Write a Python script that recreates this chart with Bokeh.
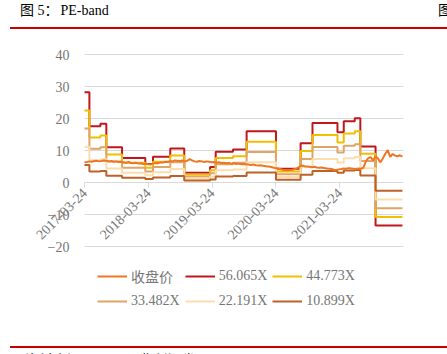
import math
from datetime import datetime, timedelta
from bokeh.plotting import figure
from bokeh.models import (Range1d, FixedTicker, DatetimeTickFormatter, Legend, LegendItem,
                          Div, DatetimeAxis, LinearAxis, Grid)
from bokeh.layouts import column
from bokeh.embed import file_html
from bokeh.resources import INLINE

# ---------------- data ----------------
price_start = "2017-03-24"
price_step_days = 14
price = [
    6.3, 6.4, 6.6, 6.5, 6.7, 6.8, 6.6, 6.7, 6.9, 6.8, 6.6, 6.7, 6.5, 6.6, 6.4, 6.5,
    6.3, 6.2, 6.4, 6.1, 6.0, 6.2, 5.9, 6.0, 5.8, 5.9, 5.7,
    5.6, 5.9, 6.1, 6.0, 6.3, 6.2, 6.5, 6.4, 6.7, 6.6, 6.9, 6.8, 6.7, 6.9, 6.6,
    6.8, 7.3, 6.9, 6.6, 6.5, 6.7, 6.6, 6.4, 6.6, 6.5, 6.3,
    6.4, 6.2, 6.3, 6.1, 6.2, 6.0, 6.1, 5.9, 6.0, 5.8, 5.9, 5.7, 5.8,
    5.7, 5.6, 5.5, 5.6, 5.4, 5.3, 5.4, 5.2, 5.1, 5.0, 4.9, 4.7, 4.5,
    4.4, 4.2, 4.0, 3.9, 3.8, 3.9, 4.0, 4.2, 4.5, 5.0, 5.3, 5.1, 5.0,
    4.9, 4.8, 4.9, 4.7, 4.6, 4.7, 4.5, 4.4, 4.3, 4.2, 4.0, 3.9, 4.1,
    4.2, 4.4, 4.3, 4.5, 4.4, 4.3, 4.2, 4.4, 4.3,
    4.6, 6.5, 7.6, 7.9, 6.9, 8.2, 7.5, 6.3, 7.6, 9.0, 10.1, 8.0, 8.9, 8.4, 8.2, 8.5, 8.1,
]

eps_dates = [
    "2017-03-24", "2017-04-21", "2017-06-23", "2017-07-27", "2017-10-25",
    "2018-03-07", "2018-04-20", "2018-07-28", "2018-10-16", "2019-03-13",
    "2019-04-14", "2019-07-22", "2019-10-08", "2020-03-24", "2020-08-12",
    "2020-10-19", "2021-03-11", "2021-04-16", "2021-06-18", "2021-07-20",
    "2021-10-15", "2022-03-18",
]
eps_values = [
    0.503, 0.314, 0.328, 0.196, 0.137,
    0.103, 0.144, 0.189, 0.055, 0.086,
    0.171, 0.184, 0.285, 0.077, 0.219,
    0.332, 0.280, 0.342, 0.358, 0.200,
    -0.240, -0.240,
]

multiples = [56.065, 44.773, 33.482, 22.191, 10.899]
band_labels = ["56.065X", "44.773X", "33.482X", "22.191X", "10.899X"]
price_label = "收盘价"

tick_dates = ["2017-03-24", "2018-03-24", "2019-03-24", "2020-03-24", "2021-03-24"]
x_start, x_end = "2017-03-24", "2022-03-24"
y_ticks = [-20, -10, 0, 10, 20, 30, 40]
y_min, y_max = -20, 40

title_prefix = "图 5"
title_rest = "：PE-band"
source_text = "资料来源：Wind，华创证券"

# ---------------- layout / styles ----------------
W, H = 447, 314            # figure size (below a 30px header)
plot_left, plot_right = 84, 403    # pixel span of the data area
plot_top, plot_bottom = 24, 216    # pixel span of the data area (figure coords)

price_color = "#EE7623"
band_colors = ["#C0161C", "#EFC000", "#E0A466", "#FBDDAE", "#BD6128"]
grid_color = "#D9D9D9"
text_color = "#767676"
serif = "'Liberation Serif', 'Noto Sans CJK SC'"


def parse(d):
    return datetime.strptime(d, "%Y-%m-%d")


def to_ms(dt):
    return (dt - datetime(1970, 1, 1)).total_seconds() * 1000.0


xs_ms, xe_ms = to_ms(parse(x_start)), to_ms(parse(x_end))
ms_per_px = (xe_ms - xs_ms) / (plot_right - plot_left)
x_lo = xs_ms - plot_left * ms_per_px
x_hi = xe_ms + (W - plot_right) * ms_per_px
u_per_px = (y_max - y_min) / (plot_bottom - plot_top)
y_hi = y_max + plot_top * u_per_px
y_lo = y_min - (H - plot_bottom) * u_per_px

p0 = parse(price_start)
price_x = [p0 + timedelta(days=price_step_days * i) for i in range(len(price))]
eps_x = [parse(d) for d in eps_dates]

p = figure(
    width=W, height=H,
    x_axis_location=None, y_axis_location=None,
    x_range=Range1d(x_lo, x_hi), y_range=Range1d(y_lo, y_hi),
    output_backend="svg", toolbar_location=None,
    min_border=0,
)
p.outline_line_color = None
p.background_fill_color = "white"
# drop any default grids
p.center = [r for r in p.center if not isinstance(r, Grid)]

# horizontal gridlines over the data span
p.segment(x0=[xs_ms] * len(y_ticks), x1=[xe_ms] * len(y_ticks), y0=y_ticks, y1=y_ticks,
          line_color=grid_color, line_width=1)

# y axis (labels only)
yaxis = LinearAxis(fixed_location=xs_ms, ticker=FixedTicker(ticks=y_ticks))
yaxis.axis_line_color = None
yaxis.major_tick_line_color = None
yaxis.minor_tick_line_color = None
yaxis.major_tick_out = 0
yaxis.major_tick_in = 0
yaxis.major_label_standoff = 15
yaxis.major_label_text_font = serif
yaxis.major_label_text_font_size = "14px"
yaxis.major_label_text_color = text_color
p.add_layout(yaxis, "left")

# x axis at y = 0
fmt = "%Y-%m-%d"
xaxis = DatetimeAxis(
    fixed_location=0,
    ticker=FixedTicker(ticks=[to_ms(parse(d)) for d in tick_dates]),
    formatter=DatetimeTickFormatter(
        microseconds=fmt, milliseconds=fmt, seconds=fmt, minsec=fmt, minutes=fmt,
        hourmin=fmt, hours=fmt, days=fmt, months=fmt, years=fmt,
    ),
)
xaxis.axis_line_color = None
xaxis.major_tick_line_color = grid_color
xaxis.major_tick_out = 5
xaxis.major_tick_in = 0
xaxis.minor_tick_line_color = None
xaxis.major_label_orientation = math.pi / 4
xaxis.major_label_standoff = 3
xaxis.major_label_text_font = serif
xaxis.major_label_text_font_size = "14px"
xaxis.major_label_text_color = text_color
p.add_layout(xaxis, "below")

# bands
band_renderers = []
for m, c in zip(multiples, band_colors):
    band = [e * m for e in eps_values]
    r = p.step(x=eps_x, y=band, mode="after", line_color=c, line_width=2)
    band_renderers.append(r)

# price
r_price = p.line(x=price_x, y=price, line_color=price_color, line_width=2)

items = [LegendItem(label=price_label, renderers=[r_price])]
for lab, r in zip(band_labels, band_renderers):
    items.append(LegendItem(label=lab, renderers=[r]))

legend = Legend(
    items=items, location=(97, 33), orientation="horizontal", ncols=3,
    background_fill_alpha=0, border_line_color=None,
    label_text_font=serif, label_text_font_size="14px", label_text_color=text_color,
    glyph_width=30, glyph_height=14, label_height=20, label_standoff=4,
    spacing=5, padding=0, margin=0,
)
p.add_layout(legend)

font_css = "font-family:" + serif + ";font-size:14px;color:#000;white-space:nowrap;"
header = Div(
    text=(
        '<div style="position:relative;width:447px;height:30px;overflow:hidden;">'
        '<span style="position:absolute;left:20px;top:1px;' + font_css + '">'
        + title_prefix + '<span style="margin-right:2px;">' + title_rest[0] + '</span>'
        + title_rest[1:] + '</span>'
        '<span style="position:absolute;left:438px;top:1px;' + font_css + '">图</span>'
        '<div style="position:absolute;left:10px;width:437px;top:27px;height:2px;background:#C80000;"></div>'
        '</div>'
    ),
    width=447, height=30, margin=(0, 0, 0, 0),
)

footer = Div(
    text=(
        '<div style="position:relative;width:447px;height:10px;overflow:hidden;">'
        '<div style="position:absolute;left:10px;width:437px;top:0px;height:2px;background:#C80000;"></div>'
        '<span style="position:absolute;left:25px;top:5px;' + font_css + '">' + source_text + '</span>'
        '</div>'
    ),
    width=447, height=10, margin=(0, 0, 0, 0),
)

layout = column(header, p, footer, spacing=0, margin=(0, 0, 0, 0))

open("out.html", "w").write(file_html(layout, INLINE))
